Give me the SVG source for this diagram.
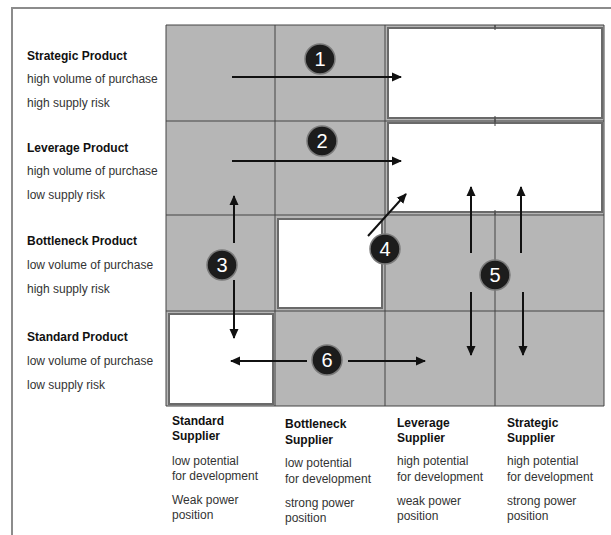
<svg xmlns="http://www.w3.org/2000/svg" width="611" height="535" viewBox="0 0 611 535">
<defs>
<marker id="ah" viewBox="0 0 10 10" refX="9" refY="5" markerWidth="5" markerHeight="5" orient="auto" markerUnits="strokeWidth">
<path d="M0,0.5 L10,5 L0,9.5 z" fill="#111"/>
</marker>
<style>
.cell{fill:#b6b6b6}
.grid{stroke:#444;stroke-width:1;fill:none}
.wbox{fill:#fff;stroke:#6a6a6a;stroke-width:2}
.arr{stroke:#111;stroke-width:2;fill:none;marker-end:url(#ah)}
.bd{font-family:"Liberation Sans",Arial,sans-serif;font-weight:bold;font-size:12px;fill:#111}
.tx{font-family:"Liberation Sans",Arial,sans-serif;font-size:12px;fill:#333}
.num circle{fill:#1c1c1c;stroke:#7a7a7a;stroke-width:1.5}
.num text{font-family:"Liberation Sans",Arial,sans-serif;font-size:20px;fill:#fff;text-anchor:middle}
</style>
</defs>
<rect x="0" y="0" width="611" height="535" fill="#fff"/>
<path d="M12,535 L12,8 L611,8" fill="none" stroke="#8c8c8c" stroke-width="2"/>

<g id="matrix">
<rect class="cell" x="166" y="25" width="438" height="381"/>
<path class="grid" d="M166,25 H604 V406 H166 Z M275,25 V406 M385,25 V406 M495,25 V406 M166,121 H604 M166,215 H604 M166,311 H604"/>
</g>
<g id="box-strategic"><rect class="wbox" x="388" y="28" width="214" height="90"/></g>
<g id="box-leverage"><rect class="wbox" x="388" y="123" width="214" height="89"/></g>
<g id="box-bottleneck"><rect class="wbox" x="278" y="219" width="104" height="89"/></g>
<g id="box-standard"><rect class="wbox" x="169" y="314" width="104" height="90"/></g>
<path class="grid" d="M495,25 V30 M495,116 V126 M495,210 V215" stroke="#666"/>

<g id="connectors">
<line class="arr" x1="232" y1="77" x2="401" y2="77"/>
<line class="arr" x1="232" y1="161" x2="401" y2="161"/>
<line class="arr" x1="234" y1="243" x2="234" y2="196"/>
<line class="arr" x1="234" y1="280" x2="234" y2="338"/>
<line class="arr" x1="368" y1="236" x2="406" y2="194"/>
<line class="arr" x1="471" y1="253" x2="471" y2="187"/>
<line class="arr" x1="521" y1="253" x2="521" y2="187"/>
<line class="arr" x1="471" y1="292" x2="471" y2="355"/>
<line class="arr" x1="523" y1="292" x2="523" y2="355"/>
<line class="arr" x1="307" y1="361" x2="231" y2="361"/>
<line class="arr" x1="348" y1="361" x2="425" y2="361"/>
</g>

<g id="n1" class="num"><circle cx="320" cy="59" r="15"/><text x="320" y="66">1</text></g>
<g id="n2" class="num"><circle cx="322" cy="141" r="15"/><text x="322" y="148">2</text></g>
<g id="n3" class="num"><circle cx="222" cy="265" r="15"/><text x="222" y="272">3</text></g>
<g id="n4" class="num"><circle cx="385" cy="249" r="15"/><text x="385" y="256">4</text></g>
<g id="n5" class="num"><circle cx="495" cy="275" r="15"/><text x="495" y="282">5</text></g>
<g id="n6" class="num"><circle cx="327" cy="360" r="15"/><text x="327" y="367">6</text></g>

<g id="row-strategic">
<text class="bd" x="27" y="60">Strategic Product</text>
<text class="tx" x="27" y="83">high volume of purchase</text>
<text class="tx" x="27" y="107">high supply risk</text>
</g>
<g id="row-leverage">
<text class="bd" x="27" y="152">Leverage Product</text>
<text class="tx" x="27" y="175">high volume of purchase</text>
<text class="tx" x="27" y="199">low supply risk</text>
</g>
<g id="row-bottleneck">
<text class="bd" x="27" y="245">Bottleneck Product</text>
<text class="tx" x="27" y="269">low volume of purchase</text>
<text class="tx" x="27" y="293">high supply risk</text>
</g>
<g id="row-standard">
<text class="bd" x="27" y="341">Standard Product</text>
<text class="tx" x="27" y="365">low volume of purchase</text>
<text class="tx" x="27" y="389">low supply risk</text>
</g>

<g id="col-standard">
<text class="bd" x="172" y="425">Standard</text>
<text class="bd" x="172" y="440">Supplier</text>
<text class="tx" x="172" y="465">low potential</text>
<text class="tx" x="172" y="480">for development</text>
<text class="tx" x="172" y="504">Weak power</text>
<text class="tx" x="172" y="519">position</text>
</g>
<g id="col-bottleneck">
<text class="bd" x="285" y="428">Bottleneck</text>
<text class="bd" x="285" y="444">Supplier</text>
<text class="tx" x="285" y="467">low potential</text>
<text class="tx" x="285" y="483">for development</text>
<text class="tx" x="285" y="507">strong power</text>
<text class="tx" x="285" y="522">position</text>
</g>
<g id="col-leverage">
<text class="bd" x="397" y="427">Leverage</text>
<text class="bd" x="397" y="442">Supplier</text>
<text class="tx" x="397" y="465">high potential</text>
<text class="tx" x="397" y="481">for development</text>
<text class="tx" x="397" y="505">weak power</text>
<text class="tx" x="397" y="520">position</text>
</g>
<g id="col-strategic">
<text class="bd" x="507" y="427">Strategic</text>
<text class="bd" x="507" y="442">Supplier</text>
<text class="tx" x="507" y="465">high potential</text>
<text class="tx" x="507" y="481">for development</text>
<text class="tx" x="507" y="505">strong power</text>
<text class="tx" x="507" y="520">position</text>
</g>
</svg>
